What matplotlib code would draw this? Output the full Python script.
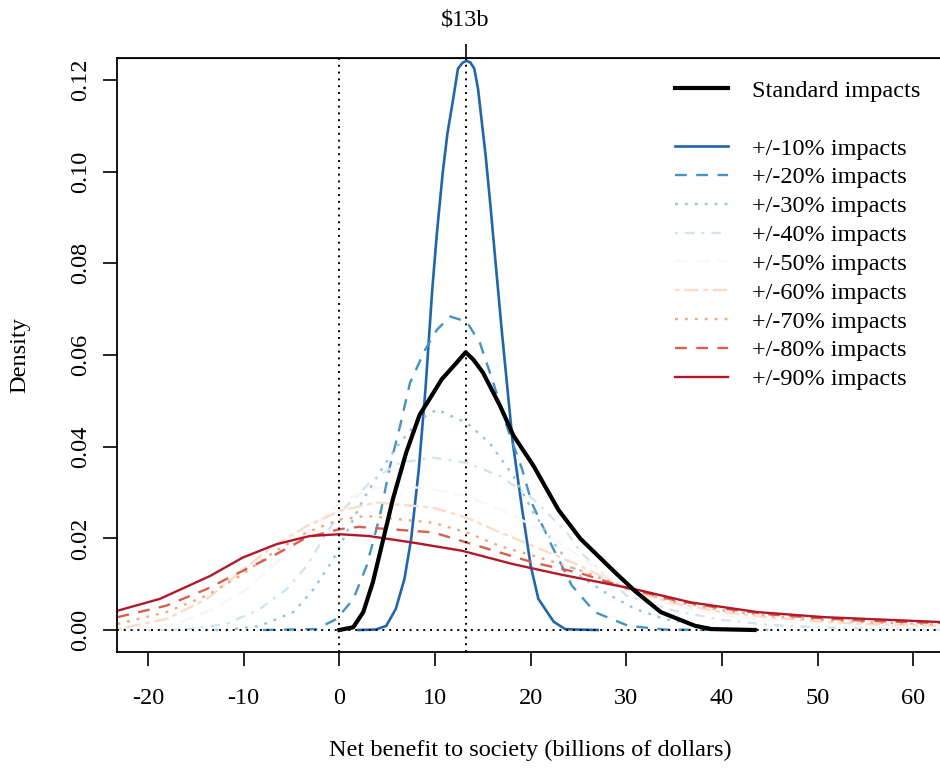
import matplotlib
matplotlib.use("Agg")
import matplotlib.pyplot as plt
from matplotlib.lines import Line2D

plt.rcParams['font.family'] = ['Liberation Serif', 'DejaVu Serif']
plt.rcParams['font.size'] = 17.5
plt.rcParams['axes.unicode_minus'] = False

# values (billions of dollars, density)
std_x = [0, 1.45, 2.5, 3.5, 4.6, 5.6, 7.0, 8.4, 9.4, 10.7, 12.2, 13.2, 14.0, 15.0, 16.8,
         18.2, 20.3, 22.9, 25.2, 28.8, 30.9, 33.6, 37.2, 38.9, 43.4]
std_y = [0, 0.0006, 0.0039, 0.0104, 0.0199, 0.0286, 0.0388, 0.0470, 0.0503, 0.0547, 0.0582,
         0.0606, 0.0590, 0.0562, 0.0489, 0.0424, 0.0358, 0.0262, 0.0199, 0.0126, 0.0085,
         0.0039, 0.0009, 0.0002, 0]

x10 = [2.0, 3.8, 4.9, 5.9, 6.8, 7.5, 8.3, 9.0, 9.7, 10.2, 10.8, 11.3, 11.9, 12.4, 12.9, 13.3,
       13.7, 14.1, 14.5, 15.3, 15.8, 16.3, 17.0, 17.6, 18.1, 19.1, 20.0, 20.8, 22.4, 23.6,
       24.7, 27.0]
y10 = [0, 0.0001, 0.0009, 0.0046, 0.0111, 0.0198, 0.0350, 0.0525, 0.0740, 0.0867, 0.0997,
       0.1084, 0.1159, 0.1225, 0.1238, 0.1242, 0.1238, 0.1225, 0.1180, 0.1033, 0.0924, 0.0808,
       0.0648, 0.0520, 0.0413, 0.0264, 0.0140, 0.0068, 0.0018, 0.0002, 0.0001, 0]

x20 = [-8.0, -2.4, -0.3, 1.45, 2.85, 4.24, 5.29, 6.33, 7.38, 8.95, 10.2, 11.56, 13.3, 14.7,
       16.1, 17.6, 19.1, 20.1, 22.2, 24.3, 26.7, 30.2, 34.0, 40.0]
y20 = [0, 0.0002, 0.0024, 0.0067, 0.0140, 0.0249, 0.0357, 0.0444, 0.0539, 0.0611, 0.0655,
       0.0684, 0.0673, 0.0626, 0.0539, 0.0438, 0.0351, 0.0278, 0.0184, 0.0097, 0.0039, 0.0009,
       0.0001, 0]

x30 = [-14.0, -11.8, -8.3, -4.8, -2.7, -0.64, 0.76, 2.5, 4.6, 6.3, 8.4, 10.2, 13.3, 15.7, 18.2,
       20.3, 22.6, 25.3, 28.1, 30.9, 34.0, 38.9, 45.0]
y30 = [0, 0, 0.0009, 0.0039, 0.0089, 0.0154, 0.0213, 0.0285, 0.0357, 0.0408, 0.0459, 0.0481,
       0.0452, 0.0408, 0.0336, 0.0256, 0.0184, 0.0115, 0.0078, 0.0046, 0.0024, 0.0005, 0]

x40 = [-20.0, -16.3, -11.8, -8.3, -5.5, -3.4, -1.3, 0.06, 1.45, 3.5, 6.3, 9.8, 13.3, 16.8,
       20.3, 23.8, 25.2, 30.0, 35.0, 40.0, 45.0, 50.0, 55.0, 62.9]
y40 = [0, 0.0001, 0.0013, 0.0046, 0.0089, 0.0140, 0.0213, 0.0256, 0.0285, 0.0328, 0.0365,
       0.0376, 0.0365, 0.0336, 0.0285, 0.0213, 0.0170, 0.0075, 0.0042, 0.0022, 0.0011, 0.0006,
       0.0003, 0.0001]

x50 = [-23.2, -17.0, -13.2, -9.7, -6.2, -2.7, 0.06, 3.0, 6.0, 9.5, 13.3, 16.8, 20.3, 25.2,
       30.0, 35.0, 40.0, 45.0, 50.0, 55.0, 63.2]
y50 = [0.0001, 0.0013, 0.0046, 0.0089, 0.0154, 0.0227, 0.0278, 0.0305, 0.0315, 0.0308, 0.0292,
       0.0263, 0.0227, 0.0160, 0.0088, 0.0052, 0.0032, 0.0021, 0.0014, 0.0009, 0.0005]

x60 = [-23.2, -18.1, -13.9, -10.4, -6.9, -3.4, 0.06, 3.9, 9.8, 13.3, 16.8, 20.3, 25.2, 30.0,
       35.0, 40.0, 45.0, 50.0, 55.0, 63.2]
y60 = [0.0002, 0.0024, 0.0067, 0.0126, 0.0183, 0.0227, 0.0260, 0.0278, 0.0267, 0.0245, 0.0213,
       0.0183, 0.0140, 0.0090, 0.0058, 0.0039, 0.0027, 0.0019, 0.0013, 0.0009]

x70 = [-23.2, -18.1, -13.9, -10.4, -6.9, -3.4, 0.06, 2.85, 9.8, 13.3, 16.8, 20.3, 25.2, 30.0,
       35.0, 40.0, 45.0, 50.0, 55.0, 63.2]
y70 = [0.0013, 0.0039, 0.0075, 0.0118, 0.0169, 0.0213, 0.0241, 0.0249, 0.0234, 0.0213, 0.0183,
       0.0162, 0.0130, 0.0091, 0.0062, 0.0043, 0.0031, 0.0023, 0.0017, 0.0012]

x80 = [-23.2, -18.1, -13.9, -10.4, -6.9, -3.4, 0.06, 2.0, 9.8, 13.3, 16.8, 20.3, 25.2, 30.0,
       35.0, 40.0, 45.0, 50.0, 55.0, 63.2]
y80 = [0.0028, 0.0053, 0.0089, 0.0126, 0.0162, 0.0202, 0.0220, 0.0225, 0.0213, 0.0191, 0.0169,
       0.0147, 0.0124, 0.0092, 0.0065, 0.0047, 0.0034, 0.0026, 0.0020, 0.0015]

x90 = [-23.2, -18.75, -13.5, -10.1, -6.6, -3.1, 0, 3.1, 7.6, 12.8, 18.1, 22.9, 30.9, 36.8,
       43.75, 50.7, 57.6, 63.2]
y90 = [0.0042, 0.0068, 0.0118, 0.0158, 0.0187, 0.0205, 0.0209, 0.0205, 0.0191, 0.0173, 0.0144,
       0.0122, 0.0089, 0.0060, 0.0039, 0.0028, 0.0022, 0.0017]

mean_benefit = 13.2
band_labels = ['+/-10% impacts', '+/-20% impacts', '+/-30% impacts', '+/-40% impacts',
               '+/-50% impacts', '+/-60% impacts', '+/-70% impacts', '+/-80% impacts',
               '+/-90% impacts']
band_x = [x10, x20, x30, x40, x50, x60, x70, x80, x90]
band_y = [y10, y20, y30, y40, y50, y60, y70, y80, y90]

# RdBu, 9 classes, blue end first
colors = ['#2166AC', '#4393C3', '#92C5DE', '#D1E5F0', '#F7F7F7',
          '#FDDBC7', '#F4A582', '#D6604D', '#B2182B']
styles = ['-', (0, (5, 4)), (0, (1.2, 3)), (0, (1.2, 3, 4, 3)), (0, (6, 3)),
          (0, (2, 2, 6, 2)), (0, (1.2, 3)), (0, (5, 4)), '-']

fig = plt.figure(figsize=(9.4, 7.7), dpi=100)
ax = fig.add_axes([117.4 / 940, 1 - 652 / 770, (944 - 117.4) / 940, 594 / 770])

handles = []
for xs, ys, c, ls, lab in zip(band_x, band_y, colors, styles, band_labels):
    h, = ax.plot(xs, ys, color=c, ls=ls, lw=1.7 if lab != '+/-10% impacts' else 1.9, label=lab)
    handles.append(h)
h_std, = ax.plot(std_x, std_y, color='black', lw=3.0, label='Standard impacts')

ax.axvline(0, color='black', ls=(0, (1, 2.5)), lw=1.4)
ax.axvline(mean_benefit, color='black', ls=(0, (1, 2.5)), lw=1.4)
ax.axhline(0, color='black', ls=(0, (1, 2.5)), lw=1.4)

ax.set_xlim(-23.2, 63.2)
ax.set_ylim(-0.0048, 0.1248)
ax.set_xticks(range(-20, 61, 10))
ax.set_yticks([0, 0.02, 0.04, 0.06, 0.08, 0.10, 0.12])
ax.set_yticklabels(['0.00', '0.02', '0.04', '0.06', '0.08', '0.10', '0.12'])
ax.tick_params(direction='out', length=10, width=1.2, labelsize=17.5)
ax.tick_params(axis='x', pad=16)
ax.tick_params(axis='y', pad=9, labelrotation=90)
for lab in ax.get_yticklabels():
    lab.set_va('center')
for s in ax.spines.values():
    s.set_linewidth(1.3)

top = ax.secondary_xaxis('top')
top.set_xticks([mean_benefit])
top.set_xticklabels([r'\$13b'])
top.tick_params(direction='out', length=10, width=1.2, labelsize=17.5, pad=10)

blank = Line2D([], [], color='none')
ax.legend([h_std, blank] + handles, ['Standard impacts', ' '] + band_labels,
          loc='upper left', bbox_to_anchor=(0.6746, 0.963), frameon=False,
          borderpad=0, borderaxespad=0, handlelength=2.2, handletextpad=0.95,
          labelspacing=0.28, fontsize=17.5)

fig.text(20 / 940, 1 - 355 / 770, 'Density', rotation=90, ha='center', va='center', fontsize=17.5)
fig.text(530 / 940, 1 - 750 / 770, 'Net benefit to society (billions of dollars)',
         ha='center', va='center', fontsize=17.5)

fig.savefig('out.png', dpi=100)
